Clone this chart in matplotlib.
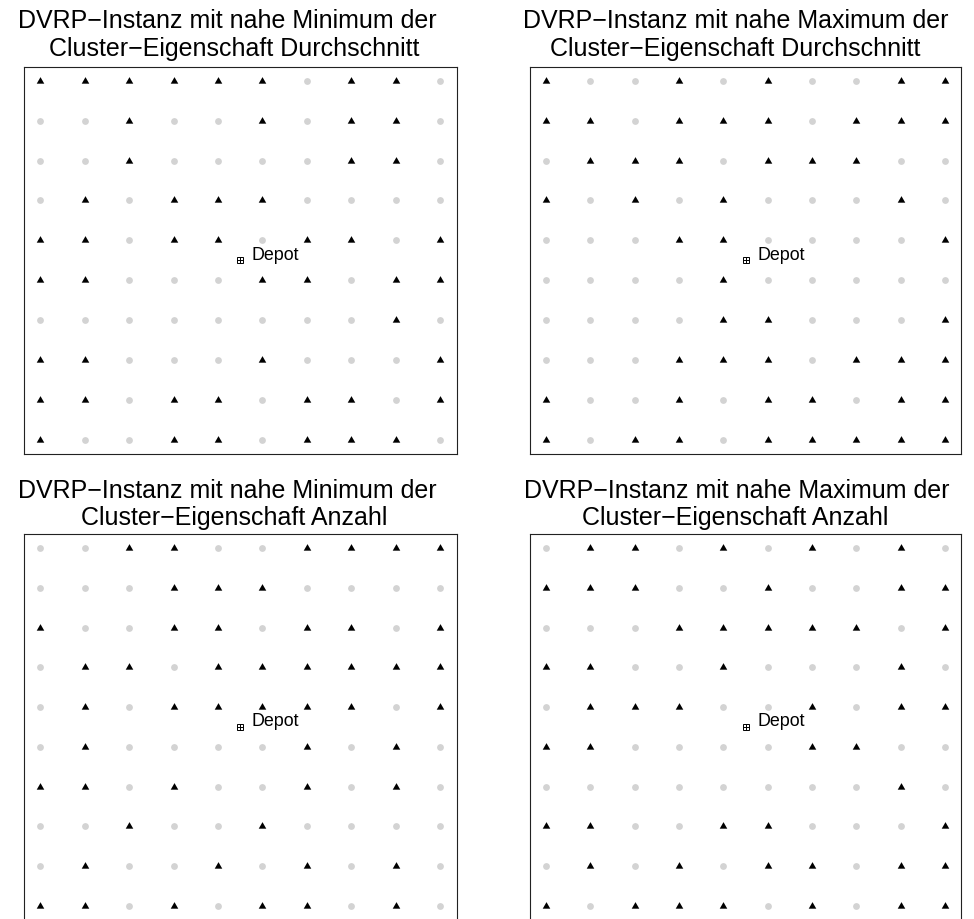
import numpy as np
import matplotlib
matplotlib.use("Agg")
import matplotlib.pyplot as plt

plt.rcParams['font.family'] = ['Liberation Sans', 'DejaVu Sans']

W, H = 974, 920

# Customer grid (10 x 10), rows listed from top to bottom.
# "1" = customer location (black triangle), "0" = unused grid point (grey dot)
grid_min_durchschnitt = [
    "1111110110",
    "0010010110",
    "0010000110",
    "0101110000",
    "1101101101",
    "1100011011",
    "0000000010",
    "1100010001",
    "1101101101",
    "1001101110",
]
grid_max_durchschnitt = [
    "1001010011",
    "1101110111",
    "0111011100",
    "1010100010",
    "0001100001",
    "0000100000",
    "0000110001",
    "0001110111",
    "1001011011",
    "1011011111",
]
grid_min_anzahl = [
    "0011001111",
    "0001110000",
    "1001101101",
    "0110111111",
    "0101111101",
    "0100001010",
    "1101001010",
    "0010010000",
    "0100101010",
    "1101011010",
]
grid_max_anzahl = [
    "0110101010",
    "1110010011",
    "0001111101",
    "1100100010",
    "0111001011",
    "1100001100",
    "0000000010",
    "1100110001",
    "0101011011",
    "1011101011",
]

titles_line1 = [
    "DVRP\u2212Instanz mit nahe Minimum der",
    "DVRP\u2212Instanz mit nahe Maximum der",
    "DVRP\u2212Instanz mit nahe Minimum der",
    "DVRP\u2212Instanz mit nahe Maximum der",
]
titles_line2 = [
    "Cluster\u2212Eigenschaft Durchschnitt",
    "Cluster\u2212Eigenschaft Durchschnitt",
    "Cluster\u2212Eigenschaft Anzahl",
    "Cluster\u2212Eigenschaft Anzahl",
]
grids = [grid_min_durchschnitt, grid_max_durchschnitt,
         grid_min_anzahl, grid_max_anzahl]

depot_xy = (5.5, 5.5)
depot_label = "Depot"

# panel boxes in pixels: (left, right, top, bottom)
boxes = [
    (24, 456.5, 67.5, 455),
    (530, 961, 67.5, 455),
    (24, 456.5, 535, 921),
    (530, 961, 535, 921),
]
# title placement in pixels: (x line1, baseline line1, x line2, baseline line2)
title_pos = [
    (227, 28.5, 234, 56),
    (736, 28.5, 735, 56),
    (227.5, 498, 234, 525.5),
    (736.5, 498, 735.5, 525.5),
]

# equilateral triangle marker (R pch 17 style)
tri = [(-1.0, -0.577), (1.0, -0.577), (0.0, 1.155), (-1.0, -0.577)]

fig = plt.figure(figsize=(W / 100, H / 100), dpi=100)

for grid, box, tp, t1, t2 in zip(grids, boxes, title_pos, titles_line1, titles_line2):
    l, r, t, b = box
    ax = fig.add_axes([l / W, 1 - b / H, (r - l) / W, (b - t) / H])
    cells = np.array([[int(c) for c in row] for row in grid])
    n = cells.shape[0]
    xs, ys = np.meshgrid(np.arange(1, n + 1), np.arange(n, 0, -1))
    on = cells == 1
    ax.plot(xs[~on], ys[~on], 'o', color='#d3d3d3', ms=4.9, mew=0, linestyle='none')
    ax.plot(xs[on], ys[on], marker=tri, color='black', ms=6.3, mew=0, linestyle='none')
    # depot: square with cross
    ax.plot(*depot_xy, marker='s', ms=4.6, mfc='none', mec='black', mew=0.7)
    ax.plot(*depot_xy, marker='+', ms=4.6, color='black', mew=0.7)
    ax.annotate(depot_label, xy=depot_xy, xytext=(8.4, 1.2), textcoords='offset points',
                ha='left', va='baseline', fontsize=12.9)
    pad = 0.04 * (n - 1)
    ax.set_xlim(1 - pad, n + pad)
    ax.set_ylim(1 - pad, n + pad)
    ax.set_xticks([])
    ax.set_yticks([])
    for sp in ax.spines.values():
        sp.set_linewidth(0.8)
        sp.set_color('#222222')
    fig.text(tp[0] / W, 1 - tp[1] / H, t1, ha='center', va='baseline', fontsize=18)
    fig.text(tp[2] / W, 1 - tp[3] / H, t2, ha='center', va='baseline', fontsize=18)

fig.savefig("out.png", dpi=100)
